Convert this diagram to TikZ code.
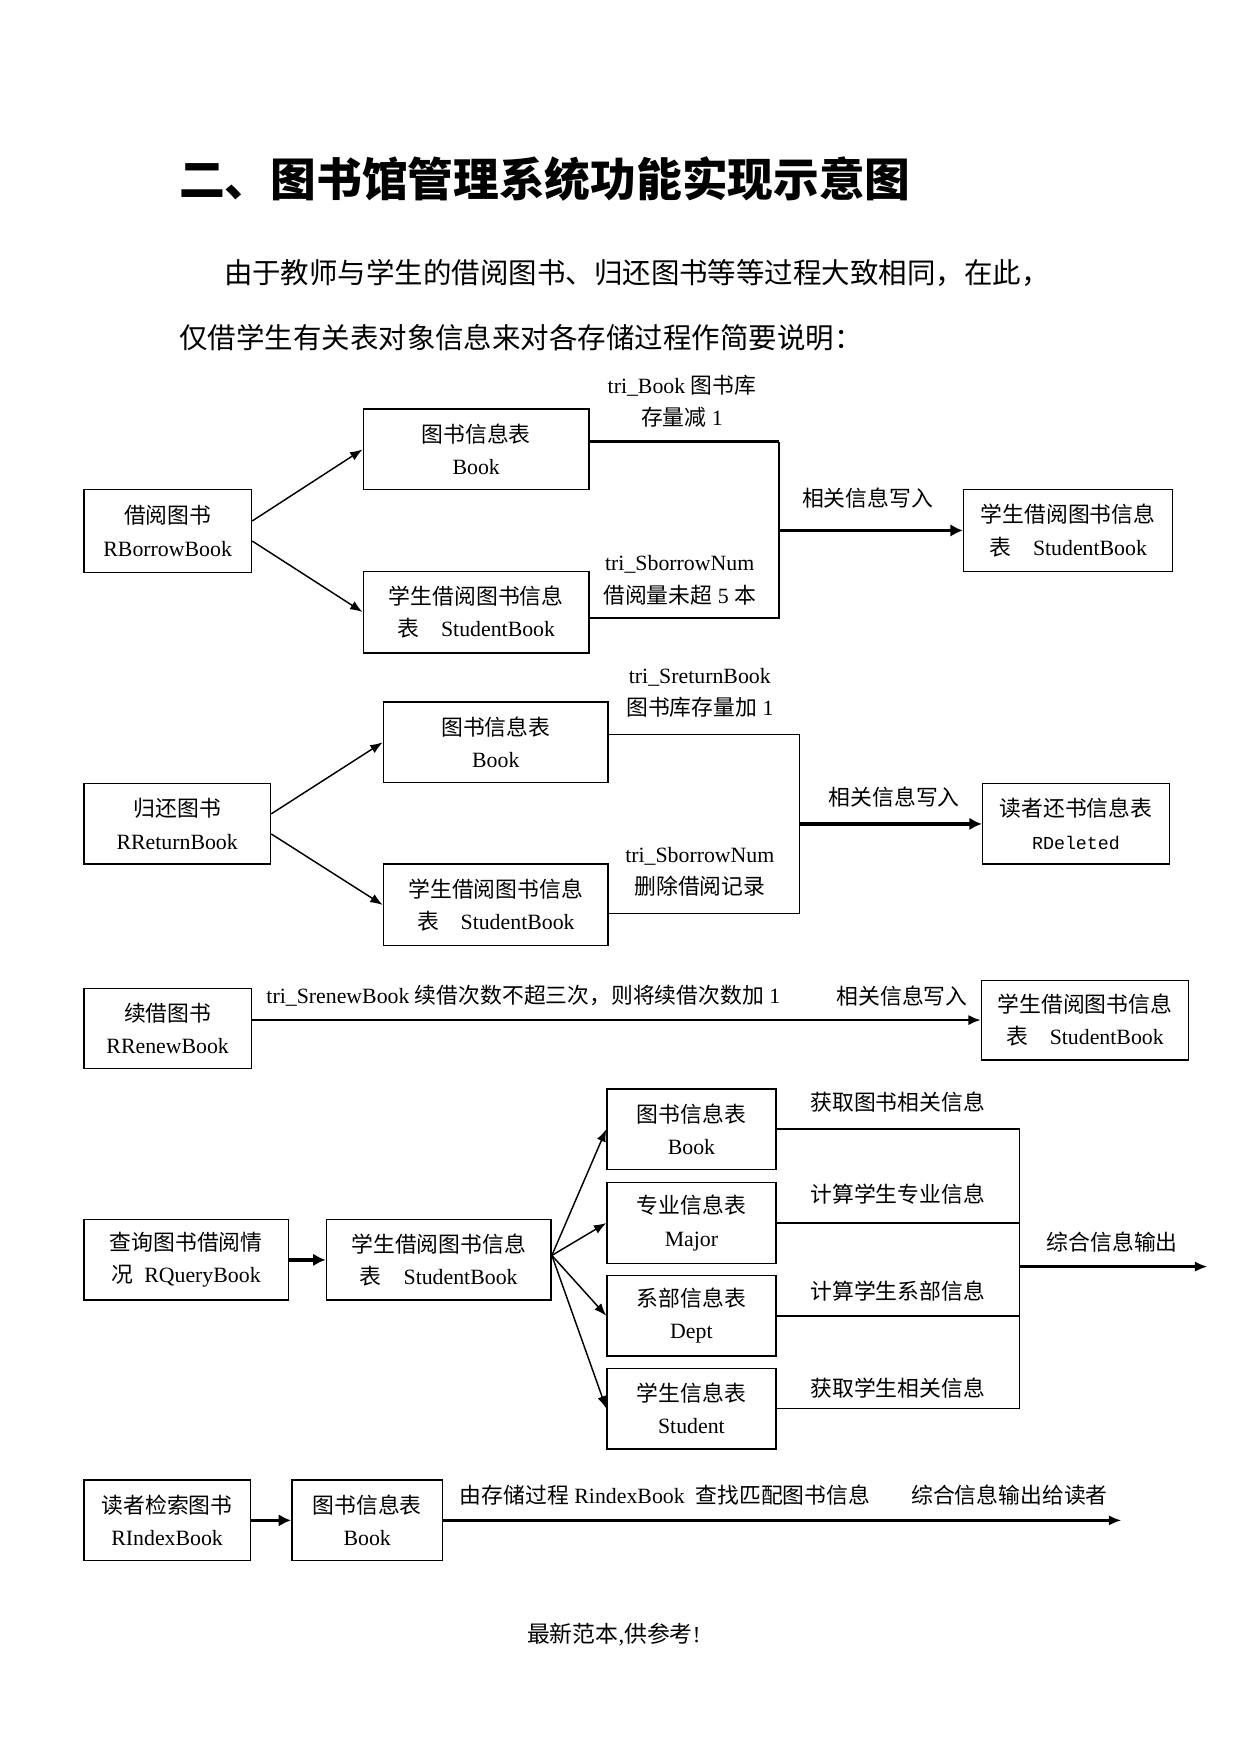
\documentclass[tikz,border=0pt]{standalone}
\usepackage{fontspec}
\setmainfont{Liberation Serif}
\setmonofont{Liberation Mono}
\newfontfamily\cjk{Noto Sans CJK SC}
\usetikzlibrary{arrows.meta,calc}
\newcommand\C[1]{{\cjk #1}}
\newcommand\bx[6]{\node[box,minimum width={(#4-#2)*0.538pt},minimum height={(#5-#3)*0.538pt}] (#1) at ({(#2+#4)/2},{(#3+#5)/2}) {#6};}
\begin{document}
\begin{tikzpicture}[x=0.538pt,y=-0.538pt,
  box/.style={draw,line width=0.7pt,inner sep=0pt,align=center,font=\fontsize{10.5pt}{15.6pt}\selectfont},
  lbl/.style={inner sep=0pt,align=center,font=\fontsize{10.5pt}{15.6pt}\selectfont},
  arr/.style={line width=0.7pt,-{Latex[length=6pt,width=4.5pt]}},
  marr/.style={line width=1.1pt,-{Latex[length=6pt,width=5pt]}},
  tarr/.style={line width=1.6pt,-{Latex[length=6pt,width=6pt]}},
  ln/.style={line width=0.7pt},
  tln/.style={line width=1.4pt}]
\useasboundingbox (0,0) rectangle (1110,1569);

% title and text
\node[anchor=west,inner sep=0pt,font=\fontsize{22pt}{26pt}\selectfont] (title) at (160,160) {\C{\bfseries 二、图书馆管理系统功能实现示意图}};
\node[anchor=west,inner sep=0pt,font=\fontsize{13.7pt}{16pt}\selectfont] (p1) at (200,244) {\C{由于教师与学生的借阅图书、归还图书等等过程大致相同，在此，}};
\node[anchor=west,inner sep=0pt,font=\fontsize{13.7pt}{16pt}\selectfont] (p2) at (160,302) {\C{仅借学生有关表对象信息来对各存储过程作简要说明：}};

% ---------- diagram 1
\bx{borrow}{75}{438}{225}{512}{\C{借阅图书}\\RBorrowBook}
\bx{bookA}{325}{366}{527}{438}{\C{图书信息表}\\Book}
\bx{sbA}{325}{511}{527}{584}{\C{学生借阅图书信息}\\\C{表}\hspace{1em}StudentBook}
\bx{sbA2}{862}{438}{1049}{511}{\C{学生借阅图书信息}\\\C{表}\hspace{1em}StudentBook}
\draw[arr] ($(borrow.east)+(0,-9)$) -- (bookA.west);
\draw[arr] ($(borrow.east)+(0,9)$) -- (sbA.west);
\coordinate (jA) at (697,474.5);
\coordinate (tA) at ($(bookA.east)+(0,-7)$);
\coordinate (bA) at ($(sbA.east)+(0,5.5)$);
\draw[tln] (tA) -- (tA -| jA);
\draw[ln] (tA -| jA) -- (bA -| jA) -- (bA);
\draw[tarr] (jA) -- (sbA2.west);
\node[lbl] (lA1) at (610,359) {tri\_Book \C{图书库}\\\C{存量减} 1};
\node[lbl] (lA2) at (776,446) {\C{相关信息写入}};
\node[lbl] (lA3) at (608,519) {tri\_SborrowNum\\\C{借阅量未超} 5 \C{本}};

% ---------- diagram 2
\bx{ret}{75}{701}{242}{773}{\C{归还图书}\\RReturnBook}
\bx{bookB}{343}{628}{544}{700}{\C{图书信息表}\\Book}
\bx{sbB}{343}{773}{544}{846}{\C{学生借阅图书信息}\\\C{表}\hspace{1em}StudentBook}
\bx{del}{879}{701}{1046}{773}{\C{读者还书信息表}\\{\ttfamily\fontsize{8.8pt}{15.6pt}\selectfont RDeleted}}
\draw[arr] ($(ret.east)+(0,-9)$) -- (bookB.west);
\draw[arr] ($(ret.east)+(0,9)$) -- (sbB.west);
\coordinate (jB) at (715,737);
\coordinate (tB) at ($(bookB.east)+(0,-7)$);
\coordinate (bB) at ($(sbB.east)+(0,7.5)$);
\draw[ln] (tB) -- (tB -| jB) -- (bB -| jB) -- (bB);
\draw[tarr] (jB) -- (del.west);
\node[lbl] (lB1) at (626,620) {tri\_SreturnBook\\\C{图书库存量加} 1};
\node[lbl] (lB2) at (800,713) {\C{相关信息写入}};
\node[lbl] (lB3) at (626,780) {tri\_SborrowNum\\\C{删除借阅记录}};

% ---------- diagram 3
\bx{renew}{75}{884}{225}{956}{\C{续借图书}\\RRenewBook}
\bx{sbC}{878}{877}{1063}{948}{\C{学生借阅图书信息}\\\C{表}\hspace{1em}StudentBook}
\draw[marr] (renew.east |- sbC.west) -- (sbC.west);
\node[lbl,anchor=west] (lC1) at (238,891) {tri\_SrenewBook \C{续借次数不超三次，则将续借次数加} 1};
\node[lbl] (lC2) at (807,891) {\C{相关信息写入}};

% ---------- diagram 4
\bx{query}{75}{1091}{258}{1163}{\C{查询图书借阅情}\\\C{况}\hspace{0.5em}RQueryBook}
\bx{sbD}{292}{1091}{493}{1163}{\C{学生借阅图书信息}\\\C{表}\hspace{1em}StudentBook}
\bx{bookD}{543}{974}{694}{1046}{\C{图书信息表}\\Book}
\bx{major}{543}{1058}{694}{1130}{\C{专业信息表}\\Major}
\bx{dept}{543}{1141}{694}{1213}{\C{系部信息表}\\Dept}
\bx{stu}{543}{1224}{694}{1296}{\C{学生信息表}\\Student}
\draw[tarr] (query.east) -- (sbD.west);
\foreach \t in {bookD,major,dept,stu} \draw[arr] ($(sbD.east)+(0,-4)$) -- (\t.west);
\coordinate (jD) at (912,1133);
\foreach \t in {bookD,major,dept,stu} \draw[ln] (\t.east) -- (\t.east -| jD);
\draw[ln] (bookD.east -| jD) -- (stu.east -| jD);
\coordinate (outD) at (1080,1133);
\draw[marr] (jD) -- (outD);
\node[lbl] (lD1) at (803,986) {\C{获取图书相关信息}};
\node[lbl] (lD2) at (803,1068) {\C{计算学生专业信息}};
\node[lbl] (lD3) at (803,1155) {\C{计算学生系部信息}};
\node[lbl] (lD4) at (803,1242) {\C{获取学生相关信息}};
\node[lbl] (lD5) at (995,1111) {\C{综合信息输出}};

% ---------- diagram 5
\bx{idx}{75}{1324}{224}{1396}{\C{读者检索图书}\\RIndexBook}
\bx{bookE}{261}{1324}{396}{1396}{\C{图书信息表}\\Book}
\draw[tarr] (idx.east) -- (bookE.west);
\coordinate (outE) at (1003,1360);
\draw[marr] (bookE.east) -- (outE);
\node[lbl,anchor=west] (lE1) at (411,1337) {\C{由存储过程} RindexBook\ \ \C{查找匹配图书信息}};
\node[lbl] (lE2) at (903,1337) {\C{综合信息输出给读者}};

% footer
\node[lbl,font=\fontsize{11pt}{13pt}\selectfont] (foot) at (549,1462) {\C{最新范本},\C{供参考}!};
\end{tikzpicture}
\end{document}
